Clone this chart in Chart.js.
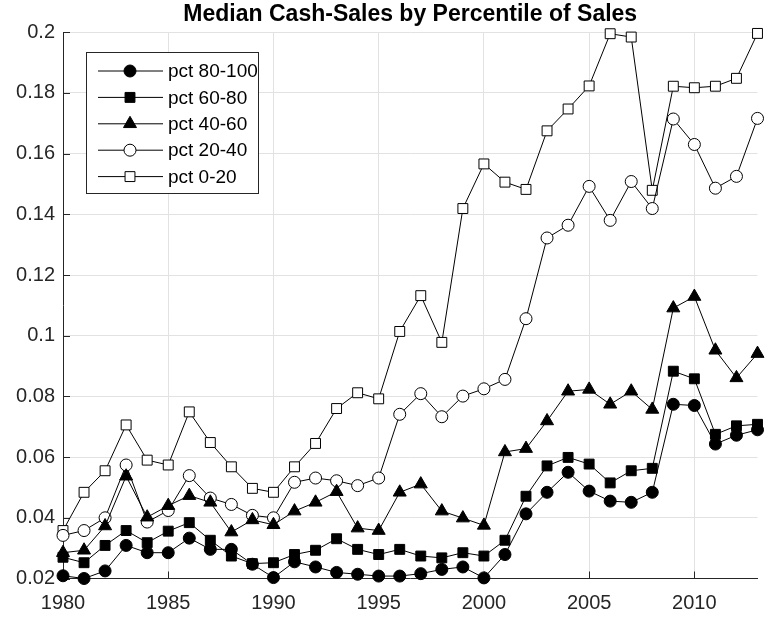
<!DOCTYPE html>
<html>
<head>
<meta charset="utf-8">
<script src="https://cdn.jsdelivr.net/npm/chart.js@4.4.0/dist/chart.umd.min.js"></script>
<style>
  body { margin: 0; background: #fff; }
  #wrap { width: 766px; height: 620px; }
</style>
</head>
<body>
<div id="wrap"><canvas id="chart" width="766" height="620"></canvas></div>
<script>
const years = [1980, 1981, 1982, 1983, 1984, 1985, 1986, 1987, 1988, 1989,
  1990, 1991, 1992, 1993, 1994, 1995, 1996, 1997, 1998, 1999,
  2000, 2001, 2002, 2003, 2004, 2005, 2006, 2007, 2008, 2009,
  2010, 2011, 2012, 2013];

const pct80to100 = [0.0209, 0.0200, 0.0225, 0.0309, 0.0285, 0.0285, 0.0333, 0.0296, 0.0296, 0.0247,
  0.0203, 0.0255, 0.0238, 0.0220, 0.0214, 0.0208, 0.0208, 0.0216, 0.0230, 0.0238,
  0.0202, 0.0279, 0.0413, 0.0484, 0.0550, 0.0488, 0.0455, 0.0451, 0.0484, 0.0774,
  0.0770, 0.0643, 0.0672, 0.0690];
const pct60to80 = [0.0270, 0.0252, 0.0309, 0.0358, 0.0318, 0.0356, 0.0384, 0.0326, 0.0274, 0.0249,
  0.0252, 0.0279, 0.0293, 0.0331, 0.0296, 0.0279, 0.0296, 0.0274, 0.0268, 0.0285,
  0.0274, 0.0326, 0.0471, 0.0571, 0.0599, 0.0577, 0.0515, 0.0555, 0.0563, 0.0883,
  0.0858, 0.0675, 0.0703, 0.0708];
const pct40to60 = [0.0285, 0.0293, 0.0373, 0.0537, 0.0402, 0.0440, 0.0473, 0.0451, 0.0353, 0.0393,
  0.0377, 0.0422, 0.0451, 0.0486, 0.0366, 0.0358, 0.0484, 0.0511, 0.0422, 0.0399,
  0.0375, 0.0617, 0.0628, 0.0719, 0.0817, 0.0823, 0.0774, 0.0817, 0.0757, 0.1091,
  0.1129, 0.0952, 0.0861, 0.0941];
const pct20to40 = [0.0342, 0.0358, 0.0400, 0.0574, 0.0386, 0.0424, 0.0539, 0.0465, 0.0444, 0.0408,
  0.0400, 0.0517, 0.0531, 0.0522, 0.0506, 0.0531, 0.0741, 0.0809, 0.0733, 0.0801,
  0.0825, 0.0856, 0.1056, 0.1322, 0.1364, 0.1492, 0.1380, 0.1508, 0.1419, 0.1714,
  0.1630, 0.1486, 0.1525, 0.1716];
const pct0to20 = [0.0358, 0.0484, 0.0555, 0.0706, 0.0590, 0.0574, 0.0749, 0.0648, 0.0568, 0.0497,
  0.0484, 0.0568, 0.0645, 0.0760, 0.0812, 0.0792, 0.1014, 0.1132, 0.0978, 0.1419,
  0.1566, 0.1506, 0.1482, 0.1675, 0.1747, 0.1823, 0.1995, 0.1984, 0.1479, 0.1822,
  0.1817, 0.1822, 0.1848, 0.1996];

const xTicks = [1980, 1985, 1990, 1995, 2000, 2005, 2010];
const yTicks = [0.02, 0.04, 0.06, 0.08, 0.1, 0.12, 0.14, 0.16, 0.18, 0.2];

const FONT = '"Liberation Sans", Arial, Helvetica, sans-serif';
const AXIS = '#262626';

const toPoints = vals => vals.map((v, i) => ({ x: years[i], y: v }));

function series(label, vals, style, radius, filled) {
  return {
    label,
    data: toPoints(vals),
    borderColor: '#000',
    borderWidth: 1,
    pointStyle: style,
    pointRadius: radius,
    pointBorderWidth: 1,
    pointBorderColor: '#000',
    pointBackgroundColor: filled ? '#000' : '#fff',
    tension: 0,
    clip: false
  };
}

// MATLAB-style ticks pointing into the plot
const inwardTicks = {
  id: 'inwardTicks',
  beforeDatasetsDraw(chart) {
    const { ctx, chartArea, scales } = chart;
    ctx.save();
    ctx.strokeStyle = AXIS;
    ctx.lineWidth = 1;
    ctx.beginPath();
    xTicks.forEach(v => {
      const px = Math.round(scales.x.getPixelForValue(v)) + 0.5;
      ctx.moveTo(px, chartArea.bottom);
      ctx.lineTo(px, chartArea.bottom - 7);
    });
    yTicks.forEach(v => {
      const py = Math.round(scales.y.getPixelForValue(v)) + 0.5;
      ctx.moveTo(chartArea.left, py);
      ctx.lineTo(chartArea.left + 7, py);
    });
    ctx.stroke();
    ctx.restore();
  }
};

// boxed legend with a line through each marker
const boxLegend = {
  id: 'boxLegend',
  afterDraw(chart) {
    const { ctx } = chart;
    const sets = chart.data.datasets;
    const left = 86, top = 52, w = 172, h = 141;
    ctx.save();
    ctx.fillStyle = '#fff';
    ctx.fillRect(left, top, w, h);
    ctx.strokeStyle = AXIS;
    ctx.lineWidth = 1;
    ctx.strokeRect(left + 0.5, top + 0.5, w, h);
    ctx.font = '19px ' + FONT;
    ctx.textBaseline = 'middle';
    sets.forEach((ds, i) => {
      const y = 71 + i * 26.4;
      ctx.strokeStyle = '#000';
      ctx.beginPath();
      ctx.moveTo(98, y);
      ctx.lineTo(163, y);
      ctx.stroke();
      ctx.fillStyle = ds.pointBackgroundColor;
      ctx.strokeStyle = '#000';
      ctx.lineWidth = 1;
      Chart.helpers.drawPoint(ctx, {
        pointStyle: ds.pointStyle,
        radius: ds.pointRadius,
        rotation: 0,
        borderWidth: 1
      }, 130, y);
      ctx.fillStyle = '#000';
      ctx.fillText(ds.label, 168, y + 1);
    });
    ctx.restore();
  }
};

new Chart(document.getElementById('chart'), {
  type: 'line',
  data: {
    datasets: [
      series('pct 80-100', pct80to100, 'circle', 6, true),
      series('pct 60-80', pct60to80, 'rect', 7, true),
      series('pct 40-60', pct40to60, 'triangle', 7.5, true),
      series('pct 20-40', pct20to40, 'circle', 6, false),
      series('pct 0-20', pct0to20, 'rect', 7, false)
    ]
  },
  options: {
    responsive: false,
    animation: false,
    layout: { padding: { right: 5 } },
    plugins: {
      legend: { display: false },
      tooltip: { enabled: false },
      title: {
        display: true,
        fullSize: false,
        text: 'Median Cash-Sales by Percentile of Sales',
        color: '#000',
        font: { family: FONT, size: 23, weight: 'bold' },
        padding: { top: 0.5, bottom: 4.1 }
      }
    },
    scales: {
      x: {
        type: 'linear',
        min: 1980,
        max: 2013,
        afterBuildTicks: s => { s.ticks = xTicks.map(v => ({ value: v })); },
        afterFit: s => { s.height = 41.5; },
        grid: { color: '#e2e2e2', drawTicks: false },
        border: { display: true, color: AXIS, width: 1 },
        ticks: {
          autoSkip: false,
          maxRotation: 0,
          padding: 13,
          color: AXIS,
          font: { family: FONT, size: 20 },
          callback: v => String(v)
        }
      },
      y: {
        min: 0.02,
        max: 0.2,
        afterBuildTicks: s => { s.ticks = yTicks.map(v => ({ value: v })); },
        afterFit: s => { s.width = 63; },
        grid: { color: '#e2e2e2', drawTicks: false },
        border: { display: true, color: AXIS, width: 1 },
        ticks: {
          padding: 8,
          color: AXIS,
          font: { family: FONT, size: 20 },
          callback: v => String(+Number(v).toFixed(2))
        }
      }
    }
  },
  plugins: [inwardTicks, boxLegend]
});
</script>
</body>
</html>
